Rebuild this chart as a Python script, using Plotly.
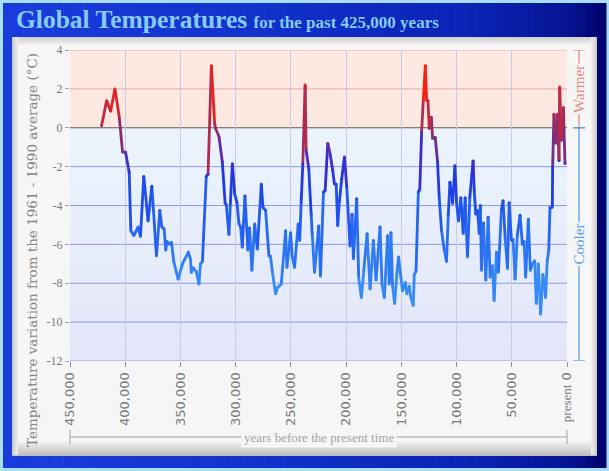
import plotly.graph_objects as go

# ---------------- data (years before present, temperature anomaly in C) -------------
ages = [421400, 416800, 413200, 409300, 405400, 402400, 399700, 396400, 394900, 392200,
        388300, 386200, 383200, 379300, 375900, 371700, 368700, 366900, 364800, 363300,
        362100, 360300, 358100, 356000, 352100, 348200, 342800, 341000, 340100, 338600,
        335600, 333200, 331900, 330100, 326600, 325000, 322000, 319000, 318100, 315100,
        312100, 309500, 308500, 306100, 304800, 303000, 300900, 298800, 297000, 295500,
        294000, 291600, 288900, 287400, 285300, 282800, 280400, 276800, 275300, 272900,
        269900, 268500, 266900, 263900, 261800, 258700, 254800, 253600, 250300, 248800,
        246700, 243400, 242000, 240700, 239200, 237100, 236200, 233800, 231600, 230700,
        228600, 226500, 224800, 223200, 220500, 219000, 216600, 214500, 212100, 210600,
        209000, 207600, 206000, 204000, 201500, 199400, 196400, 194600, 193400, 190400,
        188600, 186200, 184000, 181000, 178300, 175300, 172900, 169300, 167500, 165400,
        162400, 160900, 159400, 157900, 156100, 154000, 152500, 150400, 148900, 146400,
        144900, 142800, 141300, 139200, 138300, 136700, 134600, 133300, 131600, 130100,
        128300, 127100, 125900, 124700, 122900, 121700, 119300, 117200, 115700, 113600,
        111200, 109100, 107500, 106000, 103600, 101500, 100000, 98200, 96100, 94000,
        92200, 90100, 88000, 86200, 85000, 84000, 82600, 81000, 79500, 78400,
        77500, 75600, 73500, 71400, 69600, 67500, 66000, 63900, 62100, 59400,
        57900, 56000, 53900, 52400, 50300, 48800, 47000, 45000, 42500, 40400,
        38900, 37400, 35000, 33200, 31300, 29200, 27800, 26000, 23900, 21800,
        19400, 17900, 16500, 15400, 13300, 13000, 11800, 10200, 8700, 7200,
        6600, 5100, 3300, 1800]
temps = [0.1, 1.4, 0.85, 2.0, 0.55, -1.25, -1.25, -2.3, -5.3, -5.55,
         -5.1, -5.6, -2.5, -4.8, -3.0, -6.6, -4.25, -5.1, -5.2, -6.3,
         -5.85, -6.0, -5.9, -6.9, -7.8, -7.0, -6.4, -6.75, -7.45, -7.2,
         -7.4, -8.05, -7.0, -6.9, -2.5, -2.4, 3.2, 0.2, -0.05, -0.45,
         -1.75, -3.9, -3.95, -5.5, -3.9, -1.85, -3.4, -3.85, -4.95, -5.1,
         -6.15, -3.5, -6.3, -5.15, -7.35, -4.95, -6.25, -2.9, -4.1, -4.25,
         -6.6, -6.6, -7.35, -8.55, -8.2, -8.05, -5.3, -7.2, -5.4, -6.65,
         -7.2, -4.95, -5.8, -3.85, -1.85, 2.2, -1.15, -2.1, -4.5, -5.45,
         -7.45, -6.15, -5.05, -7.65, -3.3, -3.25, -0.8, -1.35, -2.2, -2.9,
         -2.9, -5.05, -3.75, -2.65, -1.5, -3.05, -6.1, -4.45, -6.75, -3.65,
         -7.7, -8.75, -7.35, -5.45, -8.3, -5.8, -7.85, -5.1, -8.05, -8.75,
         -5.55, -8.05, -5.4, -8.15, -9.05, -7.5, -6.65, -7.7, -8.4, -7.95,
         -8.55, -8.15, -8.75, -9.15, -7.55, -7.4, -3.3, -3.2, -0.15, 1.4,
         3.2, 1.4, 1.4, -0.05, 0.55, -0.55, -0.5, -1.75, -3.6, -5.3,
         -6.25, -6.9, -4.5, -2.8, -3.9, -1.95, -3.85, -4.8, -3.6, -5.45,
         -3.6, -6.65, -3.6, -2.45, -1.7, -3.25, -4.45, -4.25, -5.45, -4.0,
         -7.35, -4.9, -7.85, -4.6, -7.7, -7.1, -8.9, -6.4, -7.45, -4.25,
         -3.75, -5.65, -7.25, -3.85, -5.8, -5.75, -7.8, -5.55, -4.5, -6.0,
         -5.85, -7.7, -4.7, -7.35, -7.0, -6.85, -9.05, -7.0, -9.6, -7.55,
         -8.75, -6.85, -6.3, -4.1, -4.1, -2.05, 0.7, -0.8, 0.7, -1.7,
         2.1, -0.65, 1.05, -1.85]

y_ticks = [4, 2, 0, -2, -4, -6, -8, -10, -12]
y_ticktext = ["4", "2", "0", "-2", "-4", "-6", "-8", "-10", "-12"]
x_ticks = [450000, 400000, 350000, 300000, 250000, 200000, 150000, 100000, 50000, 0]
x_ticktext = ["450,000", "400,000", "350,000", "300,000", "250,000", "200,000",
              "150,000", "100,000", "50,000",
              "<span style='font-family:Liberation Serif'>present</span> 0"]

title_main = "Global Temperatures"
title_sub = "for the past 425,000 years"
y_label = "Temperature variation from the 1961 - 1990 average (°C)"
x_label = "years before the present time"
warm_label = "Warmer"
cool_label = "Cooler"

# ---------------- layout geometry ----------------
W, H = 609, 471
ML, MR, MT, MB = 70, 42, 50, 110
PW, PH = W - ML - MR, H - MT - MB


def px2x(p):
    return (p - ML) / PW


def py2y(p):
    return (H - MB - p) / PH


def lerp(c1, c2, t):
    return tuple(int(round(a + (b - a) * t)) for a, b in zip(c1, c2))


def hexrgb(h):
    h = h.lstrip('#')
    return tuple(int(h[i:i + 2], 16) for i in (0, 2, 4))


def rgbstr(c):
    return 'rgb(%d,%d,%d)' % c


stops = [(-10, (62, 152, 246)), (-7.5, (52, 134, 244)), (-5, (36, 98, 240)),
         (-3, (30, 62, 228)), (-2, (52, 46, 205)), (-1, (100, 44, 160)),
         (0, (150, 44, 100)), (1, (205, 40, 58)), (2, (240, 34, 26)), (3.4, (255, 22, 8))]


def temp_color(v):
    if v <= stops[0][0]:
        return stops[0][1]
    for (v0, c0), (v1, c1) in zip(stops[:-1], stops[1:]):
        if v <= v1:
            return lerp(c0, c1, (v - v0) / (v1 - v0))
    return stops[-1][1]


fig = go.Figure()

# line segments grouped by colour
groups = {}
for i in range(len(ages) - 1):
    mid = (temps[i] + temps[i + 1]) / 2
    key = round(mid * 4) / 4
    g = groups.setdefault(key, ([], []))
    g[0].extend([ages[i], ages[i + 1], None])
    g[1].extend([temps[i], temps[i + 1], None])

for key in sorted(groups):
    xs, ys = groups[key]
    fig.add_trace(go.Scatter(x=xs, y=ys, mode='lines', hoverinfo='skip',
                             line=dict(color=rgbstr(temp_color(key)), width=2.8),
                             showlegend=False))

fig.add_trace(go.Scatter(x=ages, y=temps, mode='markers', showlegend=False,
                         marker=dict(size=2.8, color=[rgbstr(temp_color(t)) for t in temps],
                                     line=dict(width=0))))

shapes = []


def prect(x0, y0, x1, y1, color):
    shapes.append(dict(type='rect', xref='paper', yref='paper', layer='below',
                       x0=px2x(x0), x1=px2x(x1), y0=py2y(y1), y1=py2y(y0),
                       fillcolor=color, line=dict(width=0)))


# outer blue frame with horizontal gradient
blue_stops = [(3, hexrgb('#1a3cdc')), (250, hexrgb('#1232cc')), (480, hexrgb('#0a22b4')),
              (570, hexrgb('#061492')), (606, hexrgb('#00006a'))]
nstrip = 60
for k in range(nstrip):
    xa = 3 + (606 - 3) * k / nstrip
    xb = 3 + (606 - 3) * (k + 1) / nstrip + 0.5
    xm = (xa + xb) / 2
    for (p0, c0), (p1, c1) in zip(blue_stops[:-1], blue_stops[1:]):
        if xm <= p1:
            col = lerp(c0, c1, (xm - p0) / (p1 - p0))
            break
    prect(xa, 3, xb, 468, rgbstr(col))

# inner light panel with soft shading
prect(12, 37, 597, 455, '#f6f6f6')
for k in range(8):
    t = k / 8
    prect(12, 37 + k, 597, 38 + k, rgbstr(lerp(hexrgb('#cfcfcf'), hexrgb('#f6f6f6'), t)))
for k in range(16):
    t = k / 16
    prect(12, 440 + k, 597, 441 + k, rgbstr(lerp(hexrgb('#f6f6f6'), hexrgb('#b8b8b8'), t)))
for k in range(6):
    t = k / 6
    prect(591 + k, 37, 592 + k, 455, rgbstr(lerp(hexrgb('#eeeeee'), hexrgb('#c4c4c4'), t)))
    prect(12 + k, 37, 13 + k, 455, rgbstr(lerp(hexrgb('#cccccc'), hexrgb('#f2f2f2'), t)))

# plot area backgrounds (data referenced)
shapes.append(dict(type='rect', xref='x', yref='y', layer='below', x0=x_ticks[0], x1=x_ticks[-1],
                   y0=0, y1=y_ticks[0], fillcolor='#fde9e1', line=dict(width=0)))
nb = 12
for k in range(nb):
    ya = y_ticks[-1] * k / nb
    yb = y_ticks[-1] * (k + 1) / nb
    col = lerp(hexrgb('#ebf4fd'), hexrgb('#e2e5f8'), (k + 0.5) / nb)
    shapes.append(dict(type='rect', xref='x', yref='y', layer='below', x0=x_ticks[0], x1=x_ticks[-1],
                       y0=yb, y1=ya, fillcolor=rgbstr(col), line=dict(width=0)))

# horizontal grid lines coloured by side of zero
for v in y_ticks:
    if v > 0:
        col, w = '#e3aaa2', 1
    elif v == 0:
        col, w = '#5a5a5a', 1
    else:
        col, w = '#8d98e6', 1
    shapes.append(dict(type='line', xref='x', yref='y', layer='below', x0=x_ticks[0], x1=x_ticks[-1],
                       y0=v, y1=v, line=dict(color=col, width=w)))

# warmer / cooler brackets
wx = px2x(579)
cx0, cx1 = px2x(573), px2x(585)
warm_col = '#e58a7c'
cool_col = '#5aa0e6'
shapes.append(dict(type='line', xref='paper', yref='y', x0=wx, x1=wx, y0=y_ticks[0], y1=0,
                   line=dict(color=warm_col, width=1.3)))
for v in (y_ticks[0], 0):
    shapes.append(dict(type='line', xref='paper', yref='y', x0=cx0, x1=cx1, y0=v, y1=v,
                       line=dict(color=warm_col, width=1.3)))
shapes.append(dict(type='line', xref='paper', yref='y', x0=wx, x1=wx, y0=0, y1=y_ticks[-1],
                   line=dict(color=cool_col, width=1.3)))
for v in (0, y_ticks[-1]):
    shapes.append(dict(type='line', xref='paper', yref='y', x0=cx0, x1=cx1, y0=v, y1=v,
                       line=dict(color=cool_col, width=1.3)))

# bottom bracket
by = py2y(437)
shapes.append(dict(type='line', xref='paper', yref='paper', x0=0, x1=1, y0=by, y1=by,
                   line=dict(color='#a0a0a0', width=1)))
for xe in (0, 1):
    shapes.append(dict(type='line', xref='paper', yref='paper', x0=xe, x1=xe,
                       y0=py2y(430), y1=py2y(444), line=dict(color='#a0a0a0', width=1)))

annotations = [
    dict(xref='paper', yref='paper', x=px2x(14), y=py2y(19), xanchor='left', yanchor='middle',
         showarrow=False,
         text="<b>%s</b> <b><span style='font-size:17px'>%s</span></b>" % (title_main, title_sub),
         font=dict(family='Liberation Serif', size=25.5, color='#86cbf2')),
    dict(xref='paper', yref='paper', x=px2x(32), y=py2y(250), xanchor='center', yanchor='middle',
         showarrow=False, textangle=-90,
         text=y_label, font=dict(family='DejaVu Serif', size=13.5, color='#858585')),
    dict(xref='paper', yref='y', x=wx, y=(y_ticks[0] + 0) / 2, xanchor='center', yanchor='middle',
         showarrow=False, textangle=-90,
         text=warm_label, bgcolor='#f5f5f5', borderpad=1,
         font=dict(family='Liberation Serif', size=15, color=warm_col)),
    dict(xref='paper', yref='y', x=wx, y=(0 + y_ticks[-1]) / 2, xanchor='center', yanchor='middle',
         showarrow=False, textangle=-90,
         text=cool_label, bgcolor='#f5f5f5', borderpad=1,
         font=dict(family='Liberation Serif', size=15, color=cool_col)),
    dict(xref='paper', yref='paper', x=0.5, y=by, xanchor='center', yanchor='middle',
         showarrow=False,
         text=x_label, bgcolor='#f6f6f6', borderpad=2,
         font=dict(family='Liberation Serif', size=13, color='#a3a3a3')),
]

fig.update_layout(
    width=W, height=H, autosize=False,
    margin=dict(l=ML, r=MR, t=MT, b=MB, pad=0),
    paper_bgcolor='#a9dcf5', plot_bgcolor='rgba(0,0,0,0)',
    shapes=shapes, annotations=annotations, showlegend=False,
    xaxis=dict(range=[x_ticks[0], x_ticks[-1]], tickmode='array', tickvals=x_ticks,
               ticktext=x_ticktext, tickangle=-90, showgrid=True, gridcolor='#c8cae6',
               gridwidth=1, zeroline=False, showline=False, ticks='outside', ticklen=5,
               tickcolor='#909090', tickfont=dict(family='DejaVu Sans', size=13, color='#7a7a7a')),
    yaxis=dict(range=[y_ticks[-1], y_ticks[0]], tickmode='array', tickvals=y_ticks,
               ticktext=y_ticktext,
               showgrid=False, zeroline=False, showline=False, ticks='outside', ticklen=4,
               tickcolor='#a0a0a0', tickfont=dict(family='Liberation Serif', size=12, color='#7a7a7a')),
)

fig.write_html("out.html", config={'displayModeBar': False},
               post_script="document.body.style.margin='0';document.body.style.padding='0';")
